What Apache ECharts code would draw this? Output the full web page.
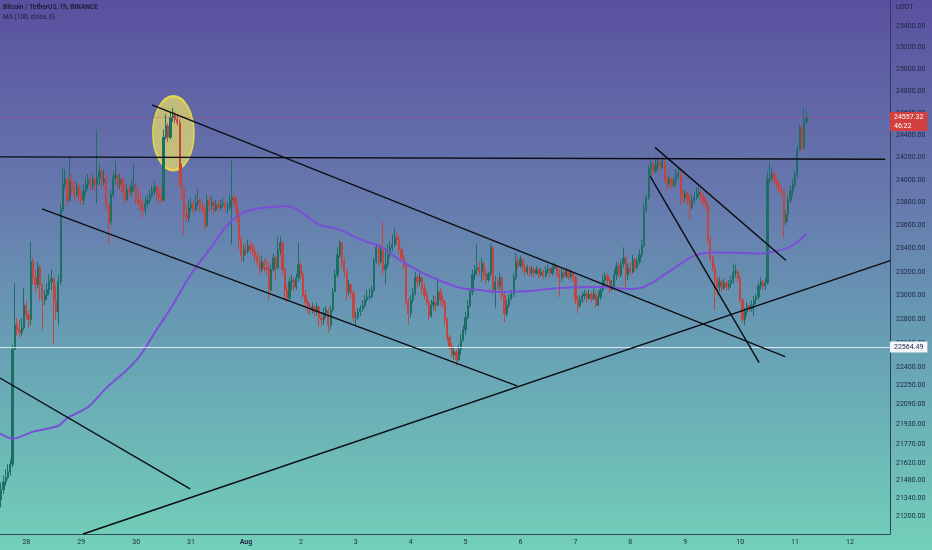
<!DOCTYPE html>
<html><head><meta charset="utf-8">
<script src="https://cdn.jsdelivr.net/npm/echarts@6/dist/echarts.min.js"></script>
<style>html,body{margin:0;padding:0;background:#6a8fb0}#c{width:932px;height:550px}</style>
</head><body><div id="c"></div>
<script>
// ---------- data ----------
const startUTC = [2022, 6, 27, 13];            // first hourly bar: 27 Jul 13:00
const barCount = 389;                            // hourly slots visible on the time axis
const firstMidnightIndex = 11;                   // slot of 28 Jul 00:00
const dayLabels = ['28','29','30','31','Aug','2','3','4','5','6','7','8','9','10','11','12'];
const yTicks = [25400,25200,25000,24800,24600,24400,24200,24000,23800,23600,23400,23200,23000,22800,22600,22400,22250,22090,21930,21770,21620,21480,21340,21200];
const yMin = 21062, yMax = 25645;

const firstOpen = 21330;
const closes = [
21410,21470,21505,21550,21610,22545,22750,22710,22685,22725,
22915,22835,22795,23285,23150,23090,23235,23090,22960,23000,
23045,23115,23140,22960,22860,23115,23735,23960,24005,23820,
23985,23915,23870,23935,23855,23820,23900,23960,24005,23950,
24005,23960,24020,24075,23980,24005,23780,23630,23870,24020,
24040,23960,24005,23900,23820,23915,23890,23940,23950,23820,
23795,23755,23735,23790,23820,23860,23900,23935,23870,23845,
23820,24380,24485,24380,24555,24575,24540,24510,23960,23915,
23695,23665,23755,23780,23735,23795,23820,23760,23735,23600,
23820,23770,23805,23735,23780,23755,23780,23790,23755,23755,
23820,23845,23780,23695,23475,23340,23390,23375,23425,23390,
23375,23330,23285,23220,23285,23235,23220,23045,23220,23320,
23235,23390,23450,23220,23045,22975,23115,23130,23070,23150,
23260,23175,23000,22940,22900,22875,22900,22860,22900,22810,
22795,22850,22875,22750,22875,23030,23175,23345,23450,23285,
23200,23030,23090,23020,22810,22810,22860,22885,22910,22960,
22985,22985,23045,23285,23410,23285,23390,23220,23260,23345,
23410,23435,23495,23475,23390,23320,23260,22940,22845,22960,
23020,23150,23115,23150,23060,23000,22940,22825,22915,22940,
22915,23030,22960,22935,22795,22645,22575,22500,22525,22460,
22545,22625,22710,22810,22910,23030,23175,23220,23235,23200,
23270,23175,23130,23185,23410,23045,23115,23080,23150,23000,
22845,22915,22975,23010,23150,23285,23250,23305,23235,23200,
23235,23190,23220,23185,23220,23175,23200,23165,23210,23225,
23185,23235,23250,23185,23150,23190,23165,23210,23155,23185,
23150,22960,22910,22960,22995,23010,22975,23010,22970,23010,
22915,22985,23045,23130,23165,23125,23045,23080,23175,23250,
23175,23270,23320,23175,23235,23200,23305,23235,23285,23345,
23425,23735,23845,24095,24140,24075,24130,24150,24110,24165,
24005,23970,24005,23950,23985,24040,24060,23870,23845,23880,
23820,23755,23820,23845,23870,23890,23845,23805,23770,23475,
23320,23235,23130,23070,23115,23060,23105,23070,23095,23125,
23190,23200,23150,22960,22795,22860,22910,22885,22915,22960,
22985,23080,23115,23080,23105,24005,24020,24050,23985,23950,
23915,23900,23630,23695,23820,23900,23960,24050,24270,24465,
24290,24520,24557.32];
const highs = [
21465,21520,21570,21610,21650,22585,23105,22810,22795,22810,
23060,22945,22875,23460,23320,23220,23285,23260,23090,23045,
23105,23175,23220,23150,23090,23175,23780,24110,24095,24020,
24200,24050,23985,23980,23960,23915,23960,24020,24050,24040,
24060,24020,24450,24140,24110,24095,24050,23780,23915,24075,
24165,24060,24050,24020,23960,23960,23950,24005,24140,23970,
23915,23870,23820,23845,23870,23915,23950,23985,23960,23935,
23940,24450,24585,24505,24600,24645,24610,24585,24540,24140,
23915,23780,23820,23845,23820,23870,23915,23845,23805,23780,
23870,23855,23860,23820,23820,23820,23820,23845,23820,23805,
23870,24180,23870,23845,23735,23520,23435,23445,23475,23460,
23445,23425,23375,23345,23340,23320,23305,23285,23260,23355,
23340,23505,23505,23460,23235,23090,23150,23175,23150,23185,
23450,23285,23200,23045,22960,22935,22935,22915,22940,22915,
22850,22895,22910,22895,22915,23060,23220,23410,23475,23410,
23320,23220,23130,23105,23045,22860,22895,22915,22960,23000,
23045,23055,23080,23320,23445,23435,23435,23630,23390,23435,
23460,23520,23580,23545,23510,23410,23345,23285,22975,23000,
23060,23200,23175,23190,23155,23105,23030,22960,22960,22995,
22995,23150,23060,23000,22960,22810,22670,22600,22560,22545,
22585,22670,22750,22860,22960,23060,23220,23260,23435,23285,
23320,23285,23220,23200,23435,23425,23165,23150,23190,23165,
23030,22960,23010,23045,23190,23365,23330,23340,23315,23270,
23260,23250,23250,23245,23250,23235,23235,23220,23245,23260,
23235,23270,23285,23260,23220,23225,23225,23235,23220,23220,
23200,23165,22995,23000,23030,23045,23035,23045,23030,23055,
23035,23035,23080,23175,23200,23185,23150,23130,23220,23285,
23280,23305,23410,23340,23270,23280,23345,23320,23320,23390,
23475,23795,23870,24130,24180,24165,24200,24200,24180,24210,
24165,24040,24040,24020,24020,24095,24110,24075,23915,23915,
23890,23855,23870,23900,23935,23935,23915,23880,23845,23795,
23495,23345,23260,23165,23155,23130,23140,23125,23130,23165,
23270,23260,23220,23165,22975,22895,22940,22935,22960,22995,
23010,23115,23150,23130,23150,24075,24155,24110,24075,24020,
23980,23950,23915,23735,23860,23950,24005,24075,24305,24495,
24485,24645,24625];
const lows = [
21270,21375,21440,21490,21520,21585,22545,22660,22645,22660,
22710,22795,22725,22750,23090,23030,23060,22960,22710,22915,
22960,23000,23045,22585,22795,22750,23090,23720,23915,23780,
23805,23870,23820,23845,23805,23780,23780,23870,23915,23915,
23915,23900,23795,23960,23915,23950,23720,23435,23605,23845,
23960,23915,23915,23845,23780,23820,23845,23860,23900,23780,
23735,23720,23665,23700,23755,23795,23845,23870,23820,23795,
23795,23820,24360,24340,24360,24520,24505,24485,23940,23820,
23520,23630,23630,23720,23700,23720,23770,23720,23700,23565,
23580,23720,23735,23695,23720,23720,23735,23755,23720,23700,
23735,23435,23735,23630,23390,23285,23285,23340,23355,23355,
23340,23285,23250,23175,23200,23200,23175,22960,23030,23200,
23130,23220,23345,23175,22960,22940,22960,23045,23030,23045,
23115,23130,22975,22910,22850,22835,22845,22825,22825,22735,
22735,22750,22810,22685,22710,22860,23030,23150,23320,23235,
23150,22960,23000,22975,22775,22745,22795,22825,22860,22895,
22940,22960,22975,23030,23270,23250,23270,23175,23090,23235,
23320,23375,23410,23435,23345,23285,23220,22915,22750,22810,
22935,23000,23060,23080,23010,22960,22910,22795,22810,22875,
22860,22910,22915,22895,22750,22610,22545,22475,22460,22410,
22445,22500,22610,22670,22795,22895,23000,23130,23175,23165,
23115,23130,23095,23115,23165,23010,22895,23045,23045,22960,
22775,22820,22895,22960,22985,23130,23220,23235,23200,23165,
23175,23155,23165,23155,23175,23140,23155,23140,23150,23185,
23155,23165,23220,23150,22985,23115,23140,23150,23130,23140,
23115,22925,22850,22895,22935,22960,22940,22960,22940,22960,
22895,22910,22960,23030,23095,23090,23020,23045,23045,23130,
23150,23150,23235,23060,23130,23165,23185,23200,23220,23260,
23320,23410,23720,23820,24020,24040,24060,24095,24075,24095,
23970,23915,23935,23915,23935,23950,24005,23780,23795,23805,
23780,23650,23735,23790,23820,23845,23805,23770,23735,23445,
23285,23200,22875,23000,23030,23030,23045,23035,23045,23060,
23095,23150,23115,22935,22770,22750,22825,22860,22860,22825,
22925,22960,23045,23045,23045,23090,23970,23985,23960,23915,
23890,23860,23495,23600,23630,23795,23860,23935,24020,24255,
24255,24270,24495];

// MA(100, close): [bar slot, price]
const maPoints = [[-0.5,21856],[5,21816],[14,21872],[25,21920],[29,21984],[38,22072],[46,22228],[55,22377],[61,22502],[68,22710],[75,22917],[82,23149],[87,23287],[91,23390],[98,23580],[104,23693],[111,23744],[120,23762],[125,23770],[131,23718],[139,23606],[148,23563],[157,23477],[166,23416],[174,23304],[183,23201],[192,23123],[201,23062],[209,23045],[218,23028],[231,23036],[244,23062],[262,23071],[275,23054],[281,23071],[288,23149],[297,23270],[303,23339],[310,23365],[319,23365],[332,23356],[336,23365],[345,23416],[352,23528]];

// hand-drawn trend lines: [[slot, price], [slot, price]]
const trendLines = [
  [[-0.5,24204],[386.4,24182]],
  [[65.9,24672],[342.7,22485]],
  [[17.9,23744],[225.5,22244]],
  [[-0.5,22309],[82.6,21416]],
  [[35.8,21062],[388.6,23295]],
  [[283.7,24031],[331.3,22435]],
  [[285.8,24289],[343.1,23296]]
];
const levelPrice = 22564.49;
const lastPrice = 24557.32;
const countdown = '46:22';
const highlight = {slotLeft: 66.3, slotRight: 84.3, priceTop: 24750, priceBottom: 24085};

// ---------- build ----------
const startMs = Date.UTC(...startUTC);
const categories = Array.from({length: barCount}, (_, i) =>
  new Date(startMs + i * 3600e3).toISOString().slice(5, 13).replace('T', ' ') + ':00');
const candles = closes.map((c, i) => {
  const o = i === 0 ? firstOpen : closes[i - 1];
  return [o, c, Math.min(lows[i], o, c), Math.max(highs[i], o, c)];
});

const textColor = '#1c2644';
const chart = echarts.init(document.getElementById('c'), null, {renderer: 'canvas'});
const option = {
  animation: false,
  backgroundColor: {type: 'linear', x: 0, y: 0, x2: 0, y2: 1, colorStops: [
    {offset: 0, color: '#5a509f'}, {offset: 0.35, color: '#6678ad'},
    {offset: 0.65, color: '#68a3b5'}, {offset: 1, color: '#72d0b8'}]},
  grid: {left: 0, right: 42, top: 0, bottom: 16, containLabel: false},
  xAxis: [{
    type: 'category', data: categories, boundaryGap: true,
    axisLine: {show: true, onZero: false, lineStyle: {color: '#2e4a5c', width: 1}},
    axisTick: {show: false}, splitLine: {show: false},
    axisLabel: {
      color: textColor, fontSize: 7, fontFamily: 'Roboto', margin: 5, hideOverlap: false,
      interval: (i) => i >= firstMidnightIndex && (i - firstMidnightIndex) % 24 === 0,
      formatter: (v, i) => {
        const t = dayLabels[(i - firstMidnightIndex) / 24] || '';
        return t === 'Aug' ? '{b|Aug}' : t;
      },
      rich: {b: {fontWeight: 'bold', fontSize: 7, fontFamily: 'Roboto', color: textColor}}
    }
  }, {
    type: 'value', min: -0.5, max: barCount - 0.5, show: false
  }],
  yAxis: [{
    type: 'log', logBase: 10, min: yMin, max: yMax, position: 'right',
    axisLine: {show: true, onZero: false, lineStyle: {color: '#2f3d5a', width: 1}},
    axisTick: {show: false}, splitLine: {show: false},
    axisLabel: {customValues: yTicks, color: textColor, fontSize: 7, fontFamily: 'Roboto',
      margin: 6, formatter: (v) => Number(v).toFixed(2)}
  }],
  graphic: [
    {type: 'text', left: 3, top: 4, style: {text: 'Bitcoin / TetherUS, 1h, BINANCE', fontSize: 6.5, fontWeight: 'bold', fontFamily: 'Roboto', fill: '#1b1f3a'}},
    {type: 'text', left: 3, top: 14, style: {text: 'MA (100, close, 0)', fontSize: 6.5, fontFamily: 'Roboto', fill: '#1b1f3a'}},
    {type: 'text', left: 896, top: 4, style: {text: 'USDT', fontSize: 7, fontFamily: 'Roboto', fill: textColor}}
  ],
  series: [
    {
      type: 'candlestick', xAxisIndex: 0, yAxisIndex: 0, data: candles, barWidth: 1.7, z: 3,
      itemStyle: {color: '#1d6f65', color0: '#c4443f', borderColor: '#1d6f65', borderColor0: '#c4443f', borderWidth: 1},
      markLine: {
        silent: true, symbol: ['none', 'none'], animation: false,
        data: [
          {yAxis: levelPrice, lineStyle: {color: 'rgba(255,255,255,0.75)', width: 1, type: 'solid'},
           label: {show: true, position: 'end', distance: 0, formatter: levelPrice.toFixed(2),
             backgroundColor: '#f4f6f8', color: '#1c2644', fontSize: 7, fontFamily: 'Roboto', padding: [2, 4, 2, 4]}},
          {yAxis: lastPrice, lineStyle: {color: 'rgba(214,70,90,0.55)', width: 1, type: 'dotted'},
           label: {show: true, position: 'end', distance: 0, offset: [0, 4], formatter: lastPrice.toFixed(2) + '\n' + countdown,
             backgroundColor: '#d33f3f', color: '#ffffff', fontSize: 7, lineHeight: 8.5, fontFamily: 'Roboto', padding: [1, 4, 1, 4]}}
        ]
      }
    },
    {
      type: 'line', name: 'MA', xAxisIndex: 1, yAxisIndex: 0, data: maPoints, smooth: 0.3,
      symbol: 'none', z: 4, lineStyle: {color: '#7a4fd6', width: 2}
    },
    ...trendLines.map((pts) => ({
      type: 'line', xAxisIndex: 1, yAxisIndex: 0, data: pts, symbol: 'none', z: 5, clip: true,
      lineStyle: {color: '#0c0c12', width: 1.4}
    }))
  ]
};
chart.setOption(option);

// highlight ellipse, positioned through the axes
const p1 = chart.convertToPixel({xAxisIndex: 1, yAxisIndex: 0}, [highlight.slotLeft, highlight.priceTop]);
const p2 = chart.convertToPixel({xAxisIndex: 1, yAxisIndex: 0}, [highlight.slotRight, highlight.priceBottom]);
const rx = (p2[0] - p1[0]) / 2, ry = (p2[1] - p1[1]) / 2;
chart.setOption({graphic: [{
  type: 'circle', id: 'hl', x: (p1[0] + p2[0]) / 2, y: (p1[1] + p2[1]) / 2, scaleX: 1, scaleY: ry / rx, z: 1,
  shape: {cx: 0, cy: 0, r: rx},
  style: {fill: 'rgba(240,228,100,0.68)', stroke: '#e3d64e', lineWidth: 1.5, strokeNoScale: true}
}]});
</script></body></html>
